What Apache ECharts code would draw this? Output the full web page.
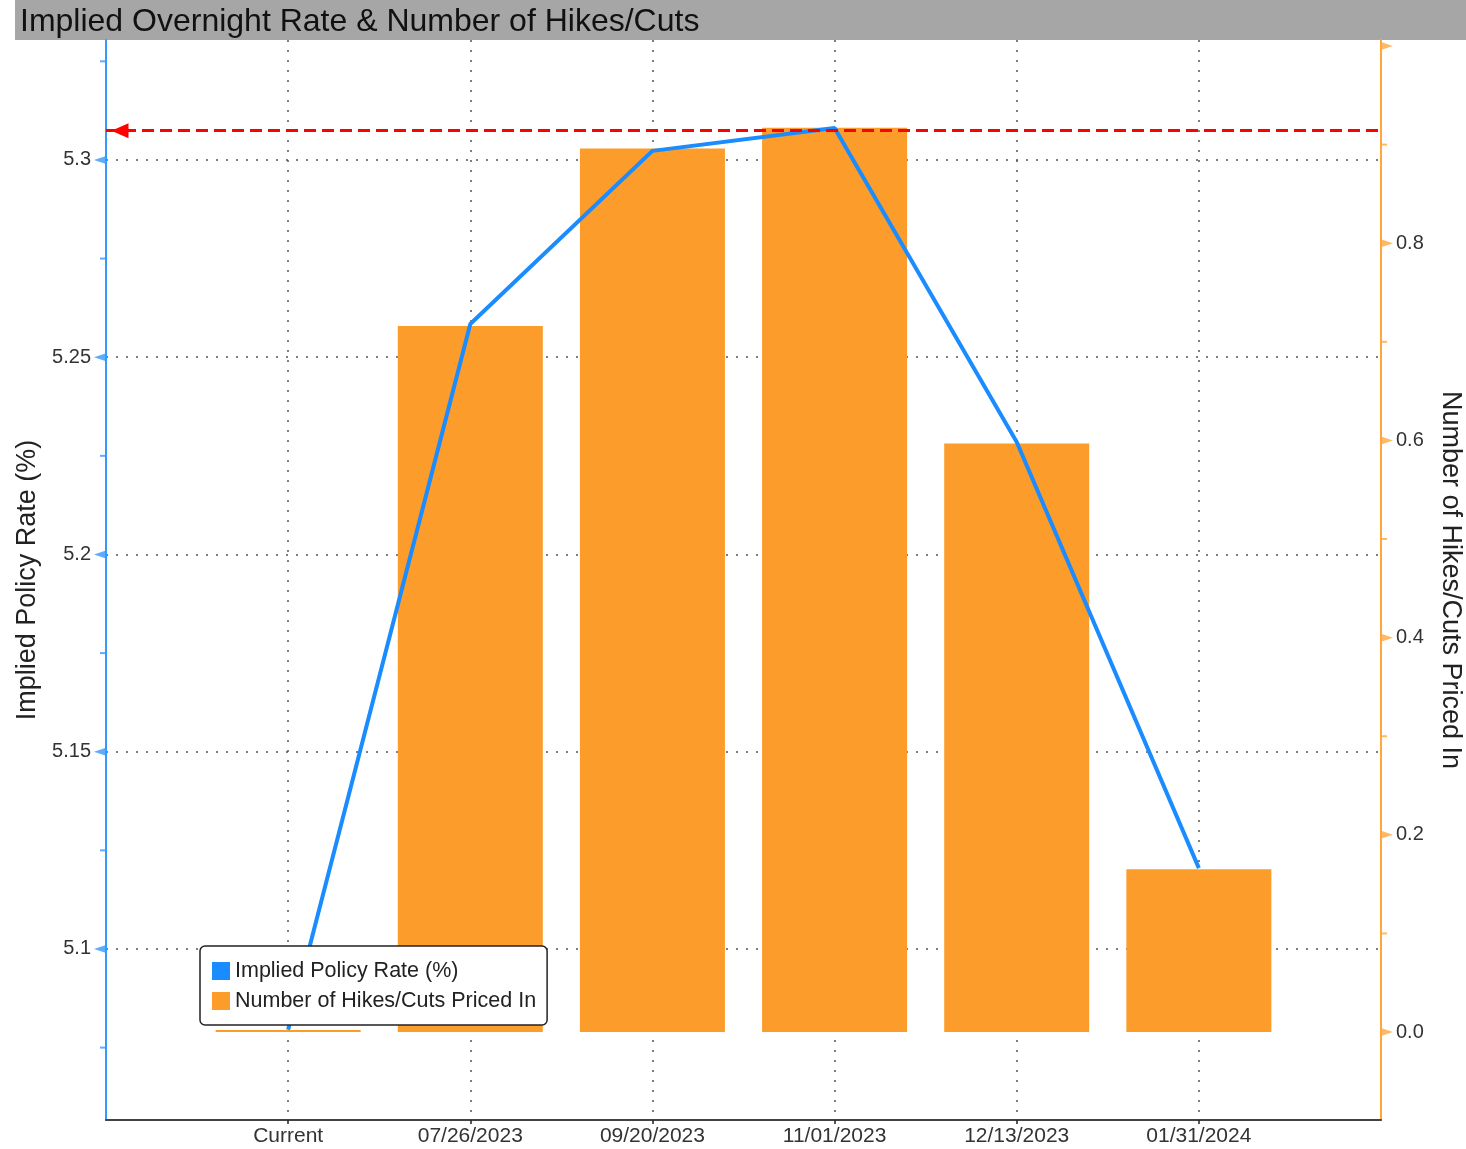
<!DOCTYPE html>
<html><head><meta charset="utf-8">
<script src="https://cdn.jsdelivr.net/npm/echarts@6/dist/echarts.min.js"></script>
<style>html,body{margin:0;padding:0;background:#fff}#c{width:1466px;height:1149px}</style>
</head><body><div id="c"></div>
<script>
const titleText = 'Implied Overnight Rate & Number of Hikes/Cuts';
const categories = ['', 'Current', '07/26/2023', '09/20/2023', '11/01/2023', '12/13/2023', '01/31/2024', ''];
const rateValues = [null, 5.0795, 5.2584, 5.3023, 5.3081, 5.2285, 5.1205, null];
const hikesValues = [null, 0.002, 0.716, 0.896, 0.917, 0.597, 0.165, null];
const peakLevel = 5.3074;
const leftMin = 5.05665, leftMax = 5.3304;
const rightMin = -0.0892, rightMax = 1.0061;
const leftMajorTicks = [5.1, 5.15, 5.2, 5.25, 5.3];
const leftMinorTicks = [5.075, 5.125, 5.175, 5.225, 5.275, 5.325];
const rightMajorTicks = [0, 0.2, 0.4, 0.6, 0.8, 1.0];
const rightLabelTicks = [0, 0.2, 0.4, 0.6, 0.8];
const rightMinorTicks = [0.1, 0.3, 0.5, 0.7, 0.9];

const FONT = 'Liberation Sans';
const BLUE = '#1a8cff', ORANGE = '#fc9c2a', AXBLUE = '#3399ff', AXORANGE = '#ffa63c';
const lastIdx = categories.length - 1;
const chart = echarts.init(document.getElementById('c'));
const tickSeries = (vals, idx, yIdx, opts) => Object.assign({
  type: 'scatter', silent: true, yAxisIndex: yIdx, z: 6, legendHoverLink: false,
  data: vals.map(v => [idx, v]), animation: false
}, opts);

chart.setOption({
  animation: false,
  textStyle: { fontFamily: FONT },
  grid: { left: 106, right: 85, top: 40, bottom: 29, containLabel: false, outerBoundsMode: 'none' },
  graphic: [
    { type: 'rect', shape: { x: 15, y: 0, width: 1451, height: 40 }, style: { fill: '#a6a6a6' }, z: 0 },
    { type: 'text', x: 20, y: 22, z: 1, style: { text: titleText, fontSize: 32, fontFamily: FONT, fill: '#111', verticalAlign: 'middle' } }
  ],
  legend: {
    left: 200, top: 946, orient: 'vertical', z: 10,
    backgroundColor: '#fff', borderColor: '#222', borderWidth: 1.5, borderRadius: 5,
    padding: [14, 11, 13, 12], itemWidth: 18, itemHeight: 18, itemGap: 8,
    textStyle: { fontSize: 21.5, color: '#222', fontFamily: FONT },
    data: [{ name: 'Implied Policy Rate (%)', icon: 'rect' }, { name: 'Number of Hikes/Cuts Priced In', icon: 'rect' }]
  },
  xAxis: {
    type: 'category', data: categories, boundaryGap: false,
    axisLine: { onZero: false, lineStyle: { color: '#444', width: 2 } },
    axisTick: { show: true, length: 4, interval: i => i > 0 && i < lastIdx, lineStyle: { color: '#222', width: 1.5 } },
    axisLabel: { interval: 0, fontSize: 21, color: '#333', margin: 6 },
    splitLine: { show: true, lineStyle: { color: '#555', type: [2, 8], width: 1.5 } }
  },
  yAxis: [
    {
      type: 'value', position: 'left', min: leftMin, max: leftMax,
      name: 'Implied Policy Rate (%)', nameLocation: 'middle', nameRotate: 90, nameGap: 64,
      nameTextStyle: { fontSize: 27, color: '#222', fontFamily: FONT },
      axisLine: { show: true, lineStyle: { color: AXBLUE, width: 2 } },
      axisTick: { show: false, customValues: leftMajorTicks },
      axisLabel: { customValues: leftMajorTicks, fontSize: 20, color: '#333', margin: 15 },
      splitLine: { show: true, lineStyle: { color: '#555', type: [2, 8], width: 1.5 } }
    },
    {
      type: 'value', position: 'right', min: rightMin, max: rightMax,
      name: 'Number of Hikes/Cuts Priced In', nameLocation: 'middle', nameRotate: -90, nameGap: 56,
      nameTextStyle: { fontSize: 27, color: '#222', fontFamily: FONT },
      axisLine: { show: true, lineStyle: { color: AXORANGE, width: 2 } },
      axisTick: { show: false, customValues: rightLabelTicks },
      axisLabel: { customValues: rightLabelTicks, fontSize: 20, color: '#333', margin: 15, formatter: v => v.toFixed(1) },
      splitLine: { show: false }
    }
  ],
  series: [
    {
      name: 'Number of Hikes/Cuts Priced In', type: 'bar', yAxisIndex: 1, data: hikesValues,
      barWidth: 145, itemStyle: { color: ORANGE }, z: 2
    },
    {
      name: 'Implied Policy Rate (%)', type: 'line', yAxisIndex: 0, data: rateValues,
      showSymbol: false, symbol: 'none', lineStyle: { color: BLUE, width: 4 }, itemStyle: { color: BLUE }, z: 3,
      markLine: {
        silent: true, symbol: ['triangle', 'none'], symbolSize: [15, 17], symbolOffset: [[0, 14], [0, 0]],
        label: { show: false },
        lineStyle: { color: '#ff0000', type: [12, 6], width: 3 },
        data: [[{ coord: [0, peakLevel] }, { coord: [lastIdx, peakLevel] }]]
      }
    },
    tickSeries(leftMajorTicks, 0, 0, { symbol: 'triangle', symbolSize: [8, 12], symbolRotate: 90, symbolOffset: [-6, 0], itemStyle: { color: AXBLUE } }),
    tickSeries(leftMinorTicks, 0, 0, { symbol: 'rect', symbolSize: [6, 2], symbolOffset: [-3, 0], itemStyle: { color: AXBLUE } }),
    tickSeries(rightMajorTicks, lastIdx, 1, { symbol: 'triangle', symbolSize: [8, 12], symbolRotate: -90, symbolOffset: [6, 0], itemStyle: { color: AXORANGE } }),
    tickSeries(rightMinorTicks, lastIdx, 1, { symbol: 'rect', symbolSize: [6, 2], symbolOffset: [3, 0], itemStyle: { color: AXORANGE } })
  ]
});
</script></body></html>
